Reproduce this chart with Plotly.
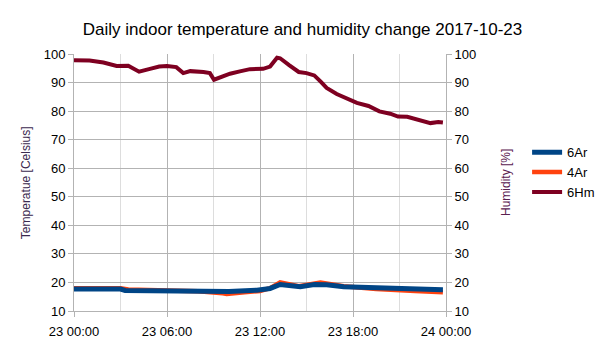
import plotly.graph_objects as go

DAY = "2017-10-23"

# Humidity 6Hm (hour of day, %)
hm_hours = [0.0, 1.0, 1.9, 2.3, 2.75, 3.5, 4.2, 4.9, 5.5, 6.0, 6.6, 7.05, 7.5, 8.35, 8.77,
            9.03, 9.4, 10.06, 10.7, 11.35, 12.2, 12.65, 13.1, 13.3, 13.9, 14.5, 15.0, 15.5,
            15.9, 16.3, 16.95, 17.6, 18.25, 19.0, 19.7, 20.4, 20.9, 21.5, 22.3, 23.0, 23.5, 23.8]
hm_values = [97.8, 97.7, 97.0, 96.6, 95.8, 95.9, 93.8, 94.8, 95.6, 95.8, 95.4, 93.3, 94.0, 93.7, 93.3,
             91.0, 91.8, 93.1, 93.9, 94.7, 94.8, 95.6, 98.7, 98.5, 96.0, 93.7, 93.3, 92.5,
             90.4, 88.1, 86.0, 84.4, 82.9, 81.8, 79.9, 79.1, 78.1, 78.0, 76.9, 75.8, 76.2, 76.0]

# Temperature 6Ar (Celsius)
a6_hours = [0.0, 3.0, 3.3, 6.0, 7.5, 10.0, 11.8, 12.65, 13.3, 14.6, 15.5, 16.3, 17.4, 19.5, 22.1, 22.5, 23.8]
a6_values = [17.7, 17.7, 17.2, 17.0, 16.8, 16.8, 17.3, 17.9, 19.3, 18.5, 19.3, 19.2, 18.5, 18.1, 17.9, 17.4, 17.4]

# Temperature 4Ar (Celsius)
a4_hours = [0.0, 3.0, 3.5, 5.5, 8.0, 9.6, 9.85, 11.0, 12.0, 12.65, 13.3, 14.5, 15.9, 17.4, 19.5, 22.0, 23.8]
a4_values = [18.0, 18.0, 17.5, 17.2, 16.9, 16.2, 16.0, 16.6, 17.0, 18.0, 20.0, 18.7, 20.0, 18.7, 17.7, 17.0, 16.6]

x_tick_labels = ["23 00:00", "23 06:00", "23 12:00", "23 18:00", "24 00:00"]
x_tick_hours = [0, 6, 12, 18, 24]
y_ticks = [10, 20, 30, 40, 50, 60, 70, 80, 90, 100]


def to_time(hours):
    out = []
    for h in hours:
        total = int(round(h * 60))
        d = 23 + total // 1440
        m = total % 1440
        out.append(f"2017-10-{d:02d} {m // 60:02d}:{m % 60:02d}")
    return out


FONT = "Liberation Sans, Arial, sans-serif"
GRID = "#b3b3b3"

fig = go.Figure()
fig.add_trace(go.Scatter(x=to_time(a4_hours), y=a4_values, name="4Ar", mode="lines",
                         line=dict(color="#ff420e", width=4.5), legendrank=2))
fig.add_trace(go.Scatter(x=to_time(a6_hours), y=a6_values, name="6Ar", mode="lines",
                         line=dict(color="#004586", width=5), legendrank=1))
fig.add_trace(go.Scatter(x=to_time(hm_hours), y=hm_values, name="6Hm", mode="lines", yaxis="y2",
                         line=dict(color="#7e0021", width=4), legendrank=3))

fig.update_layout(
    width=605, height=340,
    margin=dict(l=74, r=159, t=54, b=29, autoexpand=False),
    paper_bgcolor="white", plot_bgcolor="white",
    font=dict(family=FONT, size=13, color="#000000"),
    title=dict(text="Daily indoor temperature and humidity change 2017-10-23",
               x=0.5, xanchor="center", y=0.915, yanchor="middle",
               font=dict(size=17, color="#000000")),
    xaxis=dict(
        type="date", automargin=False,
        range=[f"{DAY} 00:00", "2017-10-24 00:00"],
        tickvals=to_time(x_tick_hours), ticktext=x_tick_labels,
        showgrid=True, gridcolor=GRID, gridwidth=1,
        minor=dict(dtick=3 * 3600 * 1000, showgrid=True, gridcolor="#dddddd", gridwidth=1,
                   ticks=""),
        ticks="outside", ticklen=5, tickcolor=GRID, ticklabelstandoff=3,
        showline=True, linecolor=GRID, linewidth=1,
        zeroline=False, tickfont=dict(size=13, color="#000000"),
    ),
    yaxis=dict(
        range=[10, 100], tickvals=y_ticks, automargin=False,
        showgrid=True, gridcolor=GRID, gridwidth=1,
        ticks="outside", ticklen=5, tickcolor=GRID,
        showline=True, linecolor=GRID, linewidth=1,
        zeroline=False, tickfont=dict(size=13, color="#000000"),
    ),
    yaxis2=dict(
        range=[10, 100], tickvals=y_ticks, overlaying="y", side="right", automargin=False,
        showgrid=False,
        ticks="outside", ticklen=5, tickcolor=GRID,
        showline=True, linecolor=GRID, linewidth=1,
        zeroline=False, tickfont=dict(size=13, color="#000000"),
    ),
    legend=dict(x=1.218, y=0.676, xanchor="left", yanchor="top",
                font=dict(size=13, color="#000000"), tracegroupgap=0,
                bgcolor="rgba(0,0,0,0)", itemwidth=30),
    showlegend=True,
)

fig.add_annotation(text="Temperatue [Celsius]", xref="paper", yref="paper",
                   x=-0.13, y=0.5, xanchor="center", yanchor="middle", textangle=-90,
                   showarrow=False, font=dict(size=12, color="#3b2a4f"))
fig.add_annotation(text="Humidity [%]", xref="paper", yref="paper",
                   x=1.16, y=0.5, xanchor="center", yanchor="middle", textangle=-90,
                   showarrow=False, font=dict(size=12, color="#5a2050"))

fig.write_html("out.html")
